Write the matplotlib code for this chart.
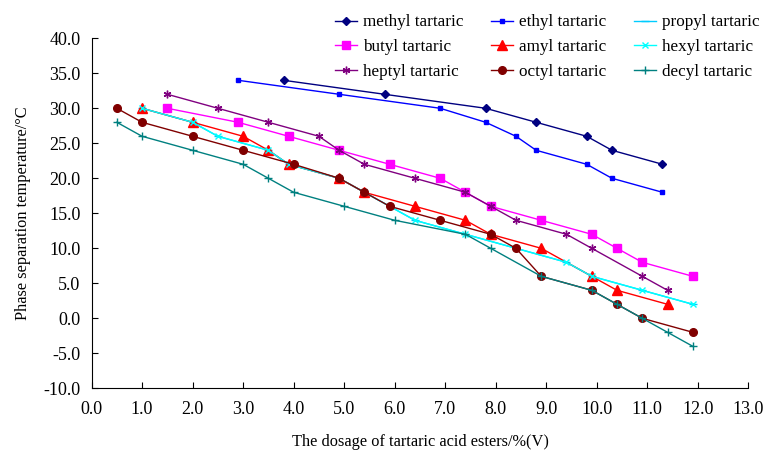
import numpy as np
import matplotlib
matplotlib.use("Agg")
import matplotlib.pyplot as plt

plt.rcParams["font.family"] = ["Liberation Serif", "DejaVu Serif"]

# values
methyl_x = [3.8, 5.8, 7.8, 8.8, 9.8, 10.3, 11.3]
methyl_y = [34, 32, 30, 28, 26, 24, 22]

ethyl_x = [2.9, 4.9, 6.9, 7.8, 8.4, 8.8, 9.8, 10.3, 11.3]
ethyl_y = [34, 32, 30, 28, 26, 24, 22, 20, 18]

hexyl_x = [1.0, 2.0, 2.5, 3.5, 3.9, 4.9, 5.4, 6.4, 7.4, 9.4, 9.9, 10.9, 11.9]
hexyl_y = [30, 28, 26, 24, 22, 20, 18, 14, 12, 8, 6, 4, 2]

# propyl is hidden underneath hexyl in the reference
propyl_x = list(hexyl_x)
propyl_y = list(hexyl_y)

butyl_x = [1.5, 2.9, 3.9, 4.9, 5.9, 6.9, 7.4, 7.9, 8.9, 9.9, 10.4, 10.9, 11.9]
butyl_y = [30, 28, 26, 24, 22, 20, 18, 16, 14, 12, 10, 8, 6]

amyl_x = [1.0, 2.0, 3.0, 3.5, 3.9, 4.9, 5.4, 6.4, 7.4, 7.9, 8.9, 9.9, 10.4, 11.4]
amyl_y = [30, 28, 26, 24, 22, 20, 18, 16, 14, 12, 10, 6, 4, 2]

heptyl_x = [1.5, 2.5, 3.5, 4.5, 4.9, 5.4, 6.4, 7.4, 7.9, 8.4, 9.4, 9.9, 10.9, 11.4]
heptyl_y = [32, 30, 28, 26, 24, 22, 20, 18, 16, 14, 12, 10, 6, 4]

octyl_x = [0.5, 1.0, 2.0, 3.0, 4.0, 4.9, 5.4, 5.9, 6.9, 7.9, 8.4, 8.9, 9.9, 10.4, 10.9, 11.9]
octyl_y = [30, 28, 26, 24, 22, 20, 18, 16, 14, 12, 10, 6, 4, 2, 0, -2]

decyl_x = [0.5, 1.0, 2.0, 3.0, 3.5, 4.0, 5.0, 6.0, 7.4, 7.9, 8.9, 9.9, 10.4, 10.9, 11.4, 11.9]
decyl_y = [28, 26, 24, 22, 20, 18, 16, 14, 12, 10, 6, 4, 2, 0, -2, -4]

fig = plt.figure(figsize=(7.66, 4.53), dpi=100)
ax = fig.add_axes([0.1195, 0.1428, 0.8575, 0.7727])

star = (6, 2, 0)
series = [
    ("methyl tartaric", methyl_x, methyl_y, "#000080", "D", 4.5),
    ("ethyl tartaric", ethyl_x, ethyl_y, "#0000FF", "s", 2.5),
    ("propyl tartaric", propyl_x, propyl_y, "#00CCFF", "_", 6),
    ("butyl tartaric", butyl_x, butyl_y, "#FF00FF", "s", 5.5),
    ("amyl tartaric", amyl_x, amyl_y, "#FF0000", "^", 6.5),
    ("hexyl tartaric", hexyl_x, hexyl_y, "#00FFFF", "x", 4.5),
    ("heptyl tartaric", heptyl_x, heptyl_y, "#800080", star, 5.5),
    ("octyl tartaric", octyl_x, octyl_y, "#800000", "o", 5.5),
    ("decyl tartaric", decyl_x, decyl_y, "#008080", "+", 5.5),
]

handles = {}
for name, xs, ys, c, m, ms in series:
    (ln,) = ax.plot(xs, ys, color=c, marker=m, markersize=ms, linewidth=1.0,
                    markeredgewidth=1.0, label=name)
    handles[name] = ln

ax.set_xlim(0, 13)
ax.set_ylim(-10, 40)
ax.set_xticks(np.arange(0, 14, 1))
ax.set_yticks(np.arange(-10, 45, 5))
ax.xaxis.set_major_formatter(matplotlib.ticker.FormatStrFormatter("%.1f"))
ax.yaxis.set_major_formatter(matplotlib.ticker.FormatStrFormatter("%.1f"))
ax.tick_params(direction="in", labelsize=13, length=4, width=0.8)
ax.tick_params(axis="y", pad=8)
ax.tick_params(axis="x", pad=9)
ax.spines["top"].set_visible(False)
ax.spines["right"].set_visible(False)
ax.set_xlabel("The dosage of tartaric acid esters/%(V)", fontsize=11.8, labelpad=12)
ax.set_ylabel("Phase separation temperature/\u00b0C", fontsize=11.8, labelpad=9)

order = ["methyl tartaric", "butyl tartaric", "heptyl tartaric",
         "ethyl tartaric", "amyl tartaric", "octyl tartaric",
         "propyl tartaric", "hexyl tartaric", "decyl tartaric"]
fig.legend([handles[n] for n in order], order, ncol=3, loc="upper left",
           bbox_to_anchor=(0.437, 0.968), frameon=False, fontsize=12.3,
           handlelength=1.3, handletextpad=0.35, columnspacing=1.6,
           labelspacing=0.5, borderaxespad=0, borderpad=0)

fig.savefig("out.png", dpi=100)
